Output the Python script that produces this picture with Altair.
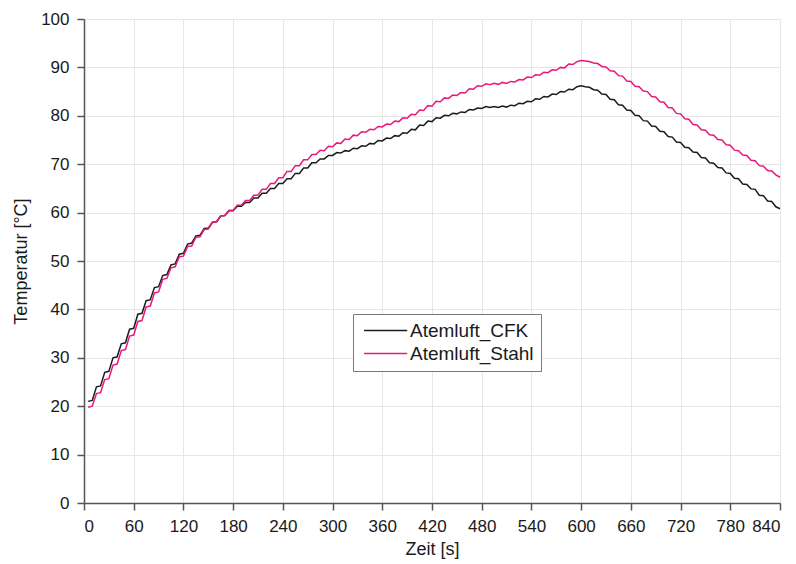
import altair as alt
import pandas as pd

# time axis (s), sampled every 5 s
zeit = list(range(5, 845, 5))

# Atemluft_CFK temperature readings (°C), one row per minute
cfk = [
    21.0, 21.2, 24.0, 24.2, 27.0, 27.2, 30.0, 30.2, 32.9, 33.1, 35.9, 36.1,
    39.0, 39.2, 41.8, 42.0, 44.5, 44.7, 47.0, 47.2, 49.2, 49.4, 51.4, 51.6,
    53.5, 53.7, 55.2, 55.3, 56.7, 56.8, 58.0, 58.1, 59.3, 59.4, 60.4, 60.4,
    61.3, 61.3, 62.1, 62.1, 63.0, 63.0, 64.0, 64.0, 65.0, 65.0, 66.0, 66.0,
    67.0, 67.0, 68.1, 68.1, 69.2, 69.2, 70.3, 70.3, 71.1, 71.1, 71.8, 71.8,
    72.4, 72.3, 72.8, 72.7, 73.3, 73.2, 73.8, 73.7, 74.3, 74.2, 74.9, 74.8,
    75.4, 75.3, 75.9, 75.8, 76.5, 76.4, 77.2, 77.1, 78.1, 78.0, 78.9, 78.8,
    79.6, 79.5, 80.1, 80.0, 80.5, 80.4, 80.8, 80.7, 81.3, 81.2, 81.6, 81.5,
    81.9, 81.7, 81.9, 81.7, 82.0, 81.8, 82.2, 82.1, 82.6, 82.5, 83.0, 82.9,
    83.5, 83.4, 84.0, 83.9, 84.5, 84.4, 85.0, 84.9, 85.5, 85.4, 86.0, 86.2,
    86.0, 85.9, 85.4, 85.3, 84.5, 84.4, 83.4, 83.3, 82.3, 82.2, 81.2, 81.1,
    80.1, 80.0, 79.0, 78.9, 77.9, 77.8, 76.8, 76.7, 75.7, 75.6, 74.6, 74.5,
    73.5, 73.4, 72.5, 72.4, 71.4, 71.3, 70.3, 70.2, 69.3, 69.2, 68.2, 68.1,
    67.1, 67.0, 65.9, 65.8, 64.9, 64.8, 63.6, 63.5, 62.4, 62.3, 61.2, 60.8,
]

# Atemluft_Stahl temperature readings (°C), one row per minute
stahl = [
    19.8, 20.0, 22.6, 22.8, 25.5, 25.7, 28.5, 28.7, 31.5, 31.7, 34.5, 34.7,
    37.5, 37.7, 40.5, 40.7, 43.4, 43.6, 46.2, 46.4, 48.6, 48.8, 50.9, 51.0,
    53.0, 53.1, 54.9, 55.0, 56.5, 56.6, 58.0, 58.1, 59.3, 59.4, 60.5, 60.5,
    61.5, 61.5, 62.5, 62.5, 63.6, 63.6, 64.8, 64.8, 66.0, 66.0, 67.2, 67.2,
    68.5, 68.5, 69.7, 69.7, 70.9, 70.9, 72.0, 72.0, 72.9, 72.8, 73.7, 73.6,
    74.4, 74.3, 75.2, 75.1, 76.0, 75.9, 76.7, 76.6, 77.2, 77.1, 77.8, 77.7,
    78.3, 78.2, 78.9, 78.8, 79.6, 79.5, 80.3, 80.2, 81.2, 81.1, 82.1, 82.0,
    83.0, 82.9, 83.7, 83.6, 84.3, 84.2, 84.8, 84.7, 85.6, 85.5, 86.2, 86.1,
    86.6, 86.4, 86.7, 86.5, 86.9, 86.7, 87.1, 87.0, 87.5, 87.4, 88.0, 87.9,
    88.5, 88.4, 89.0, 88.9, 89.5, 89.4, 90.0, 89.9, 90.7, 90.6, 91.2, 91.4,
    91.3, 91.2, 90.9, 90.8, 90.2, 90.1, 89.3, 89.2, 88.3, 88.2, 87.2, 87.1,
    86.1, 86.0, 85.1, 85.0, 84.0, 83.9, 82.9, 82.8, 81.7, 81.6, 80.5, 80.4,
    79.4, 79.3, 78.2, 78.1, 77.1, 77.0, 76.1, 76.0, 75.1, 75.0, 74.0, 73.9,
    72.9, 72.8, 71.9, 71.8, 70.8, 70.7, 69.7, 69.6, 68.7, 68.6, 67.8, 67.3,
]

series_names = ["Atemluft_CFK", "Atemluft_Stahl"]
series_colors = ["#1c1c1c", "#e8187c"]
x_ticks = [0, 60, 120, 180, 240, 300, 360, 420, 480, 540, 600, 660, 720, 780, 840]
y_ticks = [0, 10, 20, 30, 40, 50, 60, 70, 80, 90, 100]

df = pd.DataFrame({
    "Zeit": zeit + zeit,
    "Temp": cfk + stahl,
    "Serie": [series_names[0]] * len(zeit) + [series_names[1]] * len(zeit),
})

FONT = "Liberation Sans"

chart = alt.Chart(df).mark_line(strokeWidth=1.5).encode(
    x=alt.X("Zeit:Q",
            scale=alt.Scale(domain=[0, 840], nice=False, zero=True),
            axis=alt.Axis(title="Zeit [s]", values=x_ticks, labelPadding=8,
                          titlePadding=6)),
    y=alt.Y("Temp:Q",
            scale=alt.Scale(domain=[0, 100], nice=False),
            axis=alt.Axis(title="Temperatur [°C]", values=y_ticks, labelPadding=8,
                          titlePadding=10)),
    color=alt.Color("Serie:N",
                    scale=alt.Scale(domain=series_names, range=series_colors),
                    legend=alt.Legend(title=None, orient="none", legendX=269, legendY=295,
                                      strokeColor="#7a7a7a", fillColor="white",
                                      padding=7, symbolType="M-1,0L7,0", symbolSize=116,
                                      symbolStrokeWidth=1.5, labelFontSize=19,
                                      labelFont=FONT, labelColor="#1a1a1a",
                                      labelOffset=31, rowPadding=3)),
).properties(
    width=696,
    height=484,
    autosize=alt.AutoSizeParams(type="none"),
    padding={"left": 84, "top": 19, "right": 16, "bottom": 61},
).configure_view(
    stroke=None
).configure_axis(
    domainColor="#555555",
    domainWidth=1.5,
    tickColor="#555555",
    tickWidth=1.5,
    tickSize=7,
    gridColor="#e6e6e6",
    gridWidth=1,
    labelFont=FONT,
    labelFontSize=17,
    labelColor="#1a1a1a",
    titleFont=FONT,
    titleFontSize=18,
    titleFontWeight="normal",
    titleColor="#1a1a1a",
)

chart.save("out.html", embed_options={"renderer": "svg", "actions": False})
